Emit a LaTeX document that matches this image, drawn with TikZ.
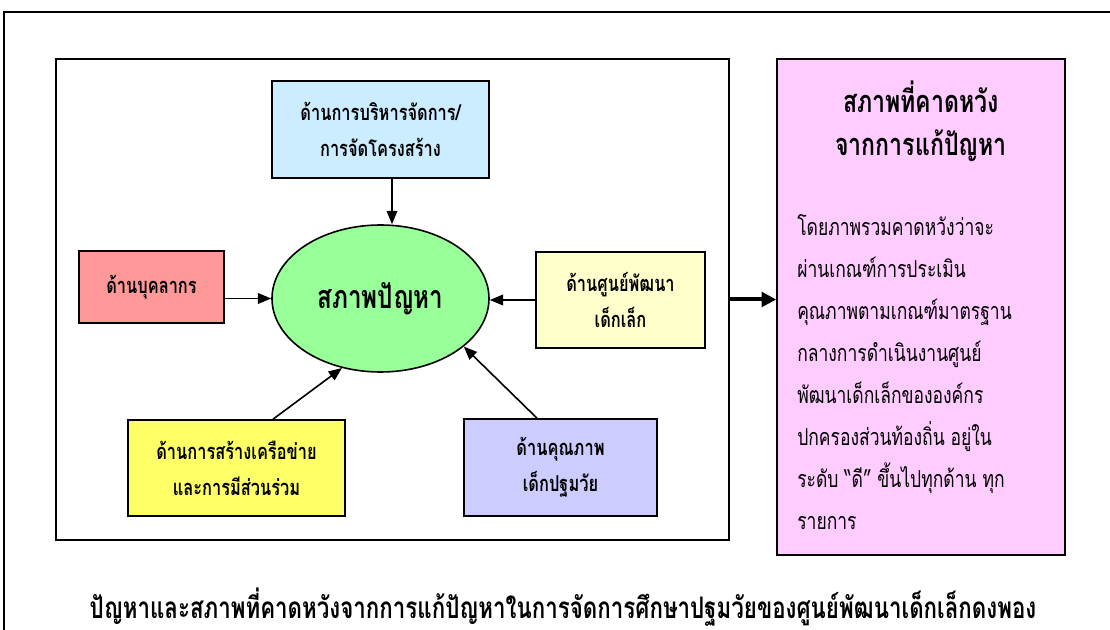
\documentclass[tikz,border=0pt]{standalone}
\usepackage{fontspec}
\setmainfont{Loma}[Script=Thai, FakeStretch=0.75]
\usetikzlibrary{arrows.meta,shapes.geometric}
\definecolor{cblue}{HTML}{CCECFF}
\definecolor{cred}{HTML}{FF9999}
\definecolor{cgreen}{HTML}{99FF99}
\definecolor{cly}{HTML}{FFFFCC}
\definecolor{cyel}{HTML}{FFFF66}
\definecolor{cpur}{HTML}{CCCCFF}
\definecolor{cpink}{HTML}{FFCCFF}
\newdimen\px \px=0.75pt
\begin{document}
\begin{tikzpicture}[x=0.75pt,y=-0.75pt,
  box/.style={draw=black, line width=1.2pt, rectangle, inner sep=0pt, align=center,
    font=\fontsize{16.4}{27}\selectfont\bfseries},
  arr/.style={-{Triangle[length=10pt,width=8pt]}, line width=1.2pt},
  bigarr/.style={-{Triangle[length=11pt,width=11pt]}, line width=3pt}]
\useasboundingbox (0,0) rectangle (1110,630);
\fill[white] (0,0) rectangle (1110,630);
\draw[line width=1.5pt] (4,640) -- (4,12) -- (1120,12);

\node[box, minimum width=673\px, minimum height=481\px] (inner) at (392.5,299.5) {};
\node[box, fill=cblue, minimum width=217\px, minimum height=97\px] (blue) at (380.5,129.5) {ด้านการบริหารจัดการ/\\การจัดโครงสร้าง};
\node[box, fill=cred, minimum width=145\px, minimum height=72\px] (red) at (151.5,287) {ด้านบุคลากร};
\node[draw=black, line width=1.2pt, ellipse, fill=cgreen, inner sep=0pt, minimum width=217\px, minimum height=147\px,
  font=\fontsize{24.2}{27}\selectfont\bfseries] (ell) at (380.5,298.5) {สภาพปัญหา};
\node[box, fill=cly, minimum width=169\px, minimum height=96\px] (ly) at (620.5,300) {ด้านศูนย์พัฒนา\\เด็กเล็ก};
\node[box, fill=cyel, minimum width=217\px, minimum height=96\px] (yel) at (236.5,468) {ด้านการสร้างเครือข่าย\\และการมีส่วนร่วม};
\node[box, fill=cpur, minimum width=193\px, minimum height=97\px] (pur) at (560.5,467.5) {ด้านคุณภาพ\\เด็กปฐมวัย};
\node[box, fill=cpink, minimum width=288\px, minimum height=496\px] (pink) at (921,307) {};

\node[align=center, font=\fontsize{23.1}{32}\selectfont\bfseries] (ptitle) at (921,121) {สภาพที่คาดหวัง\\จากการแก้ปัญหา};
\node[align=left, anchor=north west, inner sep=0pt, font=\fontsize{17.5}{31.5}\selectfont] (pbody) at (797,214)
 {โดยภาพรวมคาดหวังว่าจะ\\ผ่านเกณฑ์การประเมิน\\คุณภาพตามเกณฑ์มาตรฐาน\\กลางการดำเนินงานศูนย์\\พัฒนาเด็กเล็กขององค์กร\\ปกครองส่วนท้องถิ่น อยู่ใน\\ระดับ “ดี” ขึ้นไปทุกด้าน ทุก\\รายการ};

\node[font=\fontsize{22.3}{24}\selectfont\bfseries] (cap) at (563,607) {ปัญหาและสภาพที่คาดหวังจากการแก้ปัญหาในการจัดการศึกษาปฐมวัยของศูนย์พัฒนาเด็กเล็กดงพอง};

\draw[arr] (blue.south -| 392,0) -- (ell.north -| 392,0);
\draw[arr] (red.east |- ell.west) -- (ell.west);
\draw[arr] (ly.west) -- (ly.west -| ell.east);
\draw[arr] ([xshift=36.5\px]yel.north) -- (ell.241.5);
\draw[arr] ([xshift=-23.5\px]pur.north) -- (ell.330);
\draw[bigarr] (inner.east) -- (inner.east -| pink.west);
\end{tikzpicture}
\end{document}
